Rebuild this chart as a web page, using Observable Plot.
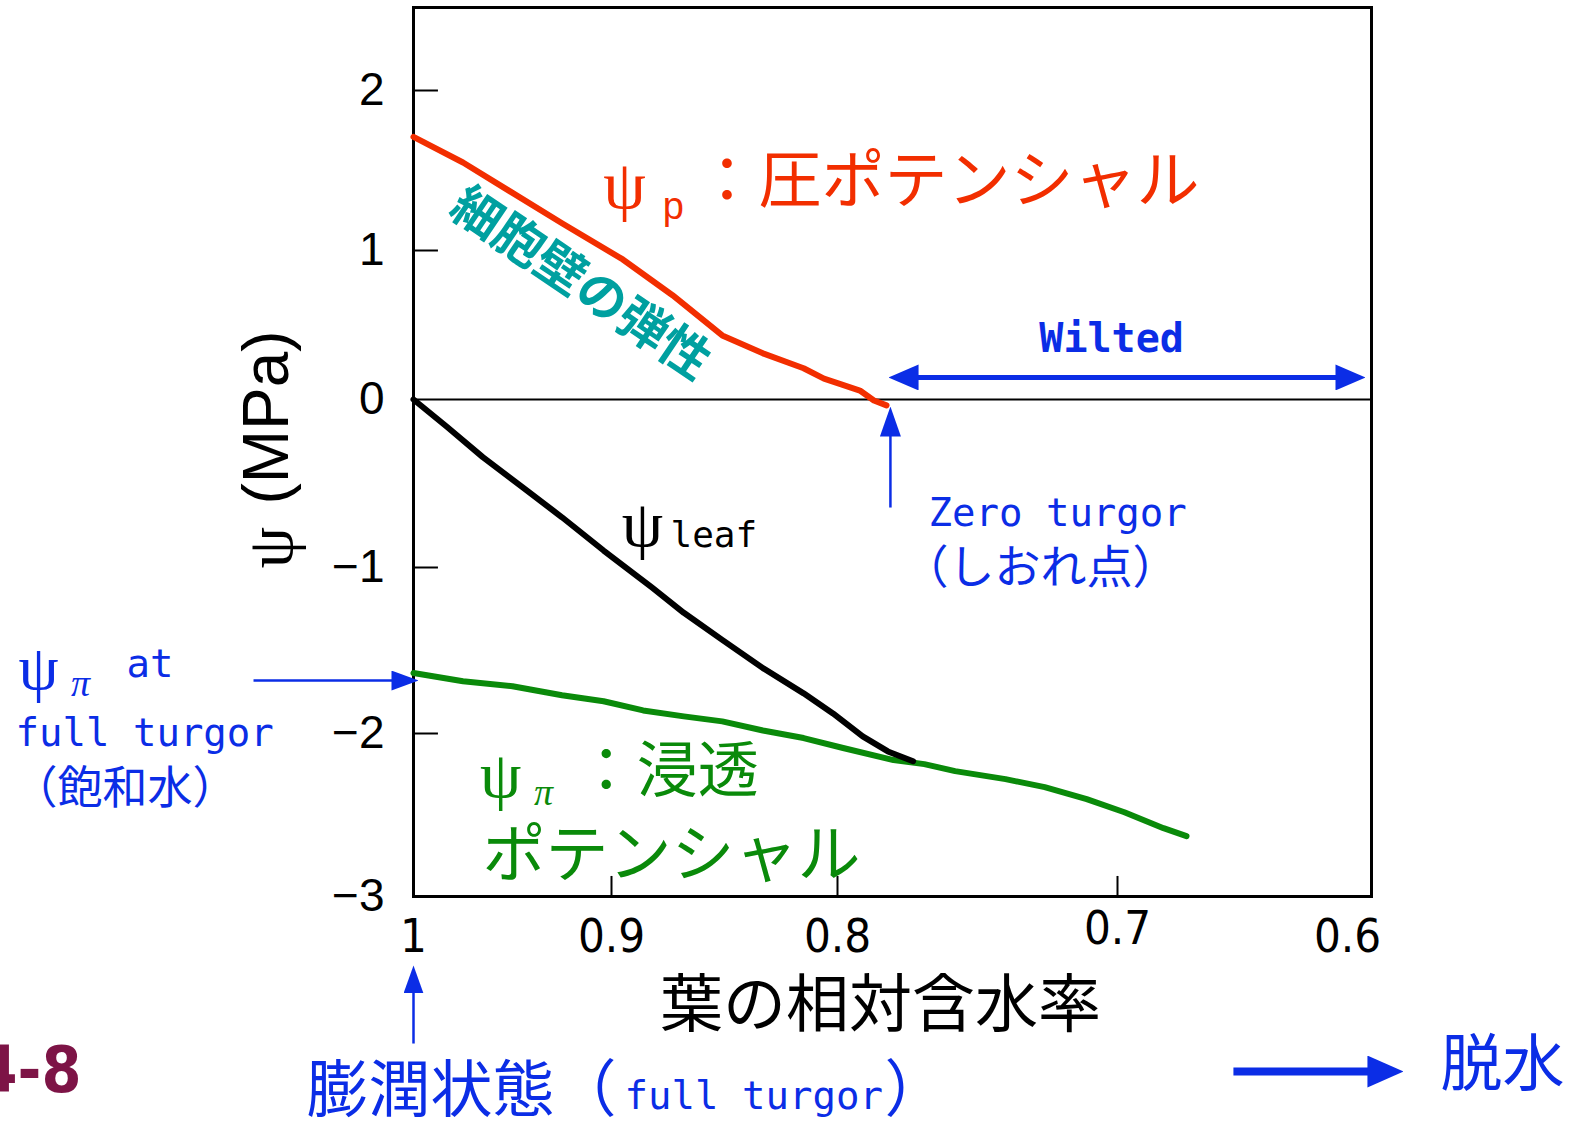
<!DOCTYPE html>
<html><head><meta charset="utf-8">
<script src="https://cdn.jsdelivr.net/npm/d3@7"></script>
<script src="https://cdn.jsdelivr.net/npm/@observablehq/plot@0.6"></script>
<style>
html,body{margin:0;padding:0;background:#fff;}
#chart svg{display:block;}
</style></head><body><div id="chart"></div>
<script>
// ---- data ----
const xTicks = [1, 0.9, 0.8, 0.7, 0.6];
const yTicks = [2, 1, 0, -1, -2, -3];

// relative water content (x) and pressure potential ψp (red)
const rwcP = [1.0, 0.975, 0.95, 0.925, 0.895, 0.873, 0.851, 0.833, 0.815, 0.806, 0.8, 0.792, 0.787, 0.7825];
const psiP = [1.71, 1.55, 1.36, 1.17, 0.94, 0.70, 0.43, 0.31, 0.21, 0.14, 0.11, 0.06, -0.006, -0.035];

// leaf water potential ψleaf (black)
const rwcLeaf = [1.0, 0.983, 0.965, 0.945, 0.925, 0.904, 0.882, 0.868, 0.851, 0.833, 0.815, 0.802, 0.791, 0.782, 0.773];
const psiLeaf = [0, -0.164, -0.343, -0.522, -0.701, -0.899, -1.121, -1.273, -1.436, -1.606, -1.758, -1.879, -2.018, -2.11, -2.17];

// osmotic potential ψπ (green)
const rwcPi = [1.0, 0.975, 0.95, 0.925, 0.904, 0.886, 0.868, 0.851, 0.833, 0.815, 0.798, 0.780, 0.769, 0.758, 0.740, 0.726, 0.711, 0.697, 0.680, 0.670];
const psiPi = [-1.636, -1.685, -1.715, -1.770, -1.806, -1.861, -1.897, -1.927, -1.982, -2.028, -2.089, -2.163, -2.188, -2.231, -2.280, -2.329, -2.403, -2.483, -2.581, -2.63];

const rows = (xs, ys) => xs.map((x, i) => ({x, y: ys[i]}));

// ---- layout: the original axes are hand-drawn with uneven tick spacing ----
const W = 1574, H = 1128;
const M = {left: 413, right: 203, top: 7, bottom: 232};
const xWarp = d3.scaleLinear().domain(xTicks).range([413, 611, 837, 1117, 1347]);
const yWarp = d3.scaleLinear().domain(yTicks).range([90, 250, 399, 567, 733, 896]);

// ---- styles ----
const RED = "#f22e00", GREEN = "#0a8a0a", TEAL = "#00a0a0", BLUE = "#0b2de6", BLACK = "#000";
const CJK = "Noto Sans CJK JP", MONO = "DejaVu Sans Mono", SERIF = "Liberation Serif", SANS = "Liberation Sans";

const label = (t, x, y, o = {}) => Plot.text([t], {x: () => x, y: () => y, text: d => d, textAnchor: "start", ...o});
const fmtY = d => d < 0 ? "\u2212" + Math.abs(d) : String(d);

const chart = Plot.plot({
  width: W,
  height: H,
  marginLeft: M.left,
  marginRight: M.right,
  marginTop: M.top,
  marginBottom: M.bottom,
  style: {background: "#fff", overflow: "visible", fontFamily: SANS},
  x: {transform: xWarp, domain: [M.left, W - M.right], range: [M.left, W - M.right]},
  y: {transform: yWarp, domain: [M.top, H - M.bottom], range: [M.top, H - M.bottom]},
  marks: [
    Plot.ruleY([0], {y: d => d, stroke: BLACK, strokeWidth: 2}),
    Plot.frame({stroke: BLACK, strokeWidth: 3}),
    // inner ticks
    Plot.ruleY(yTicks.filter(d => d !== 0 && d !== -3), {y: d => d, x1: 1, x2: 0.9874, stroke: BLACK, strokeWidth: 2}),
    Plot.ruleX(xTicks.filter(d => d !== 1 && d !== 0.6), {x: d => d, y1: -3, y2: -2.877, stroke: BLACK, strokeWidth: 2}),
    // axes labels
    Plot.axisY(yTicks, {tickSize: 0, tickPadding: 29, fontSize: 46, fontFamily: SANS, label: null, tickFormat: fmtY}),
    Plot.axisX(xTicks.filter(d => d !== 0.7), {tickSize: 0, tickPadding: 22, fontSize: 47, fontFamily: "DejaVu Sans Condensed", label: null, tickFormat: d => String(d)}),
    Plot.axisX([0.7], {tickSize: 0, tickPadding: 14, fontSize: 47, fontFamily: "DejaVu Sans Condensed", label: null, tickFormat: d => String(d)}),

    // curves
    Plot.line(rows(rwcPi, psiPi), {x: "x", y: "y", stroke: GREEN, strokeWidth: 6}),
    Plot.line(rows(rwcLeaf, psiLeaf), {x: "x", y: "y", stroke: BLACK, strokeWidth: 6}),
    Plot.line(rows(rwcP, psiP), {x: "x", y: "y", stroke: RED, strokeWidth: 6}),

    // arrows (heads added below)
    Plot.link([0], {x1: () => 1.0808, x2: () => 1.0043, y1: () => -1.681, y2: () => -1.681, stroke: BLUE, strokeWidth: 2.5, ariaLabel: () => "arrow-a"}),
    Plot.link([0], {x1: () => 0.7811, x2: () => 0.7811, y1: () => -0.643, y2: () => -0.131, stroke: BLUE, strokeWidth: 2.5, ariaLabel: () => "arrow-b"}),
    Plot.link([0], {x1: () => 0.7764, x2: () => 0.5987, y1: () => 0.148, y2: () => 0.148, stroke: BLUE, strokeWidth: 5, ariaLabel: () => "arrow-c"}),
    Plot.link([0], {x1: () => 1.0, x2: () => 1.0, y1: () => -3.902, y2: () => -3.509, stroke: BLUE, strokeWidth: 2.5, ariaLabel: () => "arrow-d"}),
    Plot.link([0], {x1: () => 0.6496, x2: () => 0.5835, y1: () => -4.074, y2: () => -4.074, stroke: BLUE, strokeWidth: 8, ariaLabel: () => "arrow-e"}),

    // y-axis title
    label("ψ", 1.0722, -0.881, {textAnchor: "middle", rotate: -90, fontSize: 66, fontFamily: SERIF, fill: BLACK}),
    label("(MPa)", 1.0737, -0.107, {textAnchor: "middle", rotate: -90, fontSize: 64, fontFamily: SANS, fill: BLACK}),
    // x-axis title
    label("葉の相対含水率", 0.7846, -3.672, {textAnchor: "middle", fontSize: 63, fontFamily: CJK, fill: BLACK}),

    // red: ψp
    label("ψ", 0.8942, 1.40, {textAnchor: "middle", fontSize: 68, fontFamily: SERIF, fill: RED}),
    label("p", 0.8726, 1.275, {textAnchor: "middle", fontSize: 38, fontFamily: SANS, fill: RED}),
    label("：圧ポテンシャル", 0.8628, 1.431, {fontSize: 63, fontFamily: CJK, fill: RED}),
    // teal
    label("細胞壁の弾性", 0.9157, 0.775, {textAnchor: "middle", rotate: 34, fontSize: 50, fontWeight: "bold", fontFamily: CJK, fill: TEAL}),
    // black ψleaf
    label("ψ", 0.8863, -0.744, {textAnchor: "middle", fontSize: 66, fontFamily: SERIF, fill: BLACK}),
    label("leaf", 0.8739, -0.810, {fontSize: 36, fontFamily: MONO, fill: BLACK}),
    // green ψπ
    label("ψ", 0.956, -2.258, {textAnchor: "middle", fontSize: 66, fontFamily: SERIF, fill: GREEN}),
    label("π", 0.9343, -2.362, {textAnchor: "middle", fontSize: 38, fontFamily: SERIF, fontStyle: "italic", fill: GREEN}),
    label("：浸透", 0.9180, -2.239, {fontSize: 61, fontFamily: CJK, fill: GREEN}),
    label("ポテンシャル", 0.9652, -2.748, {fontSize: 63, fontFamily: CJK, fill: GREEN}),

    // blue annotations
    label("Wilted", 0.7021, 0.403, {textAnchor: "middle", fontSize: 40, fontWeight: "bold", fontFamily: MONO, fill: BLUE}),
    label("Zero turgor", 0.7675, -0.679, {fontSize: 39, fontFamily: MONO, fill: BLUE}),
    label("（しおれ点）", 0.7768, -1.006, {fontSize: 46, fontFamily: CJK, fill: BLUE}),
    label("ψ", 1.1894, -1.608, {textAnchor: "middle", fontSize: 64, fontFamily: SERIF, fill: BLUE}),
    label("π", 1.1682, -1.699, {textAnchor: "middle", fontSize: 38, fontFamily: SERIF, fontStyle: "italic", fill: BLUE}),
    label("at", 1.145, -1.584, {fontSize: 39, fontFamily: MONO, fill: BLUE}),
    label("full turgor", 1.201, -2.0, {fontSize: 39, fontFamily: MONO, fill: BLUE}),
    label("（飽和水）", 1.2025, -2.345, {fontSize: 45, fontFamily: CJK, fill: BLUE}),
    label("膨潤状態（", 1.054, -4.202, {fontSize: 62, fontFamily: CJK, fill: BLUE}),
    label("full turgor", 0.8942, -4.227, {fontSize: 39, fontFamily: MONO, fill: BLUE}),
    label("）", 0.7832, -4.202, {fontSize: 62, fontFamily: CJK, fill: BLUE}),
    label("脱水", 0.5596, -4.043, {fontSize: 62, fontFamily: CJK, fill: BLUE}),
    label("4-8", 1.1677, -4.074, {textAnchor: "end", fontSize: 64, fontWeight: "bold", fontFamily: "DejaVu Sans Condensed", fill: "#7d1446"})
  ]
});

document.getElementById("chart").appendChild(chart);

// filled triangular arrowheads
const svg = d3.select(chart);
const defs = svg.insert("defs", ":first-child");
function marker(id, len, wid) {
  defs.append("marker")
    .attr("id", id)
    .attr("markerUnits", "userSpaceOnUse")
    .attr("viewBox", `0 ${-wid / 2} ${len} ${wid}`)
    .attr("markerWidth", len)
    .attr("markerHeight", wid)
    .attr("refX", len / 2)
    .attr("refY", 0)
    .attr("orient", "auto-start-reverse")
    .append("path")
    .attr("d", `M0,${-wid / 2}L${len},0L0,${wid / 2}Z`)
    .attr("fill", BLUE);
}
marker("head-a", 27, 20);
marker("head-b", 30, 21);
marker("head-c", 30, 26);
marker("head-d", 28, 20);
marker("head-e", 36, 32);
svg.selectAll('[aria-label="arrow-a"]').attr("marker-end", "url(#head-a)");
svg.selectAll('[aria-label="arrow-b"]').attr("marker-end", "url(#head-b)");
svg.selectAll('[aria-label="arrow-c"]').attr("marker-end", "url(#head-c)").attr("marker-start", "url(#head-c)");
svg.selectAll('[aria-label="arrow-d"]').attr("marker-end", "url(#head-d)");
svg.selectAll('[aria-label="arrow-e"]').attr("marker-end", "url(#head-e)");
</script>
</body></html>
